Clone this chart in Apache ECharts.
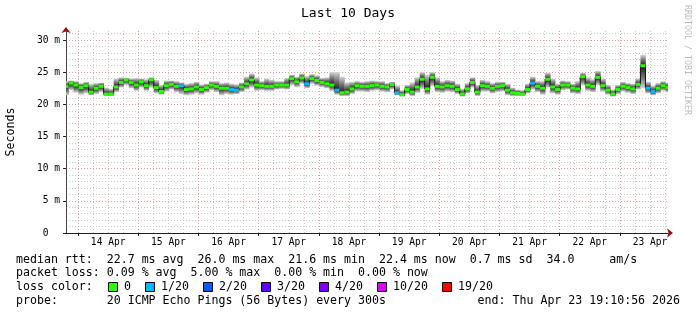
<!DOCTYPE html>
<html><head><meta charset="utf-8">
<script src="https://cdn.jsdelivr.net/npm/echarts@6/dist/echarts.min.js"></script>
<style>html,body{margin:0;padding:0;background:#fff}#c{width:697px;height:315px}</style>
</head><body><div id="c"></div>
<script>
const titleText = 'Last 10 Days';
const yAxisTitle = 'Seconds';
const creditText = 'RRDTOOL / TOBI OETIKER';
const stepHours = 2;
const spanHours = 240;
const firstMidnightHours = 4.8178; // 14 Apr 00:00 measured from start (13 Apr 19:10:56)
const dayLabels = ['14 Apr','15 Apr','16 Apr','17 Apr','18 Apr','19 Apr','20 Apr','21 Apr','22 Apr','23 Apr'];
const yTickValues = [0,5,10,15,20,25,30];
const yTickLabels = ['0  ','5 m','10 m','15 m','20 m','25 m','30 m'];
const yMax = 31.4;

// median RTT (ms), one value every 2 hours
const medianRtt = [
22.8,23.3,23.0,22.6,22.9,21.9,22.5,22.8,21.6,21.6,
22.7,23.4,23.8,23.4,23.0,23.5,22.9,23.8,22.6,22.0,
22.9,23.1,22.8,22.9,22.3,22.4,22.7,22.3,22.6,23.0,
22.8,22.5,22.5,22.3,22.2,22.7,23.2,23.8,23.0,22.9,
22.8,22.8,23.0,23.0,23.0,24.0,23.5,24.1,23.2,24.0,
23.7,23.4,23.2,23.0,22.2,21.8,21.9,22.4,22.9,22.8,
22.8,22.9,23.0,22.8,22.7,23.1,21.8,21.5,22.3,21.9,
22.7,23.9,22.4,24.2,22.8,22.7,22.9,22.8,22.3,21.6,
22.4,23.4,21.9,22.9,22.8,22.5,22.8,22.9,22.2,21.8,
21.7,21.6,22.3,23.3,22.8,22.5,23.9,22.7,22.3,23.0,
23.0,22.5,22.4,24.3,23.0,22.8,24.2,22.9,22.2,21.6,
22.3,22.8,22.6,22.4,23.1,26.0,22.5,22.0,22.5,22.9,
22.6];
// smoke: lowest and highest ping (ms)
const smokeMin = [
21.4,22.2,21.8,21.5,21.7,21.4,21.6,21.9,21.3,21.3,
21.9,22.6,23.0,22.5,22.1,22.6,22.1,22.6,21.7,21.5,
22.0,22.3,21.9,21.6,21.4,21.5,21.7,21.5,21.8,22.2,
21.9,21.4,21.6,21.5,21.6,21.9,22.3,22.6,22.1,22.2,
22.1,22.1,22.3,22.4,22.3,23.0,22.7,23.2,22.5,23.2,
22.9,22.7,22.5,22.1,21.5,21.3,21.3,21.6,22.0,22.0,
21.9,22.1,22.2,22.0,21.9,22.3,21.4,21.2,21.6,21.3,
21.8,22.4,21.5,22.8,21.9,21.8,22.0,21.9,21.6,21.2,
21.7,22.6,21.3,22.0,22.0,21.7,21.9,22.0,21.4,21.3,
21.3,21.3,21.7,22.3,21.9,21.5,22.6,21.7,21.5,22.2,
22.3,21.7,21.6,23.0,22.1,21.9,23.0,22.0,21.5,21.2,
21.6,22.0,21.8,21.6,22.3,22.5,21.7,21.4,21.7,22.1,
21.9];
const smokeMax = [
23.6,23.7,23.6,23.3,23.5,23.2,23.3,23.4,22.6,22.4,
24.0,24.2,24.1,24.0,24.1,24.0,23.9,24.2,23.8,23.0,
23.7,23.7,23.6,23.4,23.2,23.3,23.5,23.1,23.2,23.6,
23.6,23.3,23.4,23.2,23.1,23.4,24.3,24.8,24.2,23.6,
24.0,23.8,23.6,23.6,24.1,24.6,24.3,24.8,24.4,24.7,
24.5,24.1,24.2,25.0,25.0,24.3,23.4,23.5,23.6,23.5,
23.6,23.7,23.6,23.6,23.3,23.5,22.9,22.2,23.0,23.4,
24.2,25.0,24.6,25.0,24.2,23.6,23.8,23.7,23.2,22.4,
23.3,24.2,23.0,23.8,23.6,23.3,23.5,23.5,23.2,22.6,
22.3,22.2,23.2,24.3,23.6,23.6,24.9,24.0,23.2,23.7,
23.6,23.2,23.6,24.9,24.2,23.9,25.2,24.0,23.0,22.3,
23.0,23.5,23.3,23.2,24.0,27.7,23.5,22.9,23.3,23.6,
23.4];
// lost pings out of 20 for each step
const lossCount = [
0,0,0,0,0,0,0,0,0,0, 0,0,0,0,0,0,0,0,0,0,
0,0,0,1,0,0,0,0,0,0, 0,0,0,1,1,0,0,0,0,0,
0,0,0,0,0,0,0,0,1,0, 0,0,0,0,1,0,0,0,0,0,
0,0,0,0,0,0,1,0,0,0, 0,0,0,0,0,0,0,0,0,0,
0,0,0,0,0,0,0,0,0,0, 0,0,0,1,0,0,0,0,0,0,
0,0,0,0,0,0,0,0,0,0, 0,0,0,0,0,0,1,1,0,0,
0];
const lossThresholds = [0,1,2,3,4,10,19];
const lossLabels = ['0','1/20','2/20','3/20','4/20','10/20','19/20'];
const lossColors = ['#26ff00','#00b8ff','#0059ff','#5e00ff','#7e00ff','#dd00ff','#ff0000'];

const legendRtt = 'median rtt:  22.7 ms avg  26.0 ms max  21.6 ms min  22.4 ms now  0.7 ms sd  34.0     am/s';
const legendLoss = 'packet loss: 0.09 % avg  5.00 % max  0.00 % min  0.00 % now';
const legendLossColor = 'loss color:';
const legendProbe = 'probe:       20 ICMP Echo Pings (56 Bytes) every 300s';
const legendEnd = 'end: Thu Apr 23 19:10:56 2026';

const MONO = '"DejaVu Sans Mono", monospace';
const majorGrid = '#df9a9a';
const minorGrid = '#c9c9c9';

function lossColor(n) {
  let idx = 0;
  for (let k = 0; k < lossThresholds.length; k++) if (n >= lossThresholds[k]) idx = k;
  return lossColors[idx];
}

const times = medianRtt.map((_, i) => i * stepHours);
const smokeData = times.map((t, i) => [t, smokeMin[i], smokeMax[i], medianRtt[i]]);
const medData = times.map((t, i) => [t, medianRtt[i], lossCount[i]]);

const majorX = dayLabels.map((_, k) => firstMidnightHours + 24 * k);
const labelX = dayLabels.map((_, k) => firstMidnightHours + 24 * k + 12);
const minorX = [];
for (let h = firstMidnightHours - 18; h < spanHours; h += 6) {
  if (h > 0 && Math.abs(((h - firstMidnightHours) % 24 + 24) % 24) > 0.01) minorX.push(h);
}
const minorY = [];
for (let v = 1; v < yMax; v++) if (v % 5 !== 0) minorY.push(v);

function renderSmoke(params, api) {
  const t = api.value(0), lo = api.value(1), hi = api.value(2), md = api.value(3);
  const a = api.coord([t - stepHours / 2, hi]);
  const b = api.coord([t + stepHours / 2, lo]);
  const m = api.coord([t, md]);
  const h = b[1] - a[1];
  let mp = h > 0 ? (m[1] - a[1]) / h : 0.5;
  mp = Math.min(0.92, Math.max(0.08, mp));
  return {
    type: 'rect',
    shape: { x: a[0], y: a[1], width: b[0] - a[0] + 0.4, height: h },
    style: {
      fill: new echarts.graphic.LinearGradient(0, 0, 0, 1, [
        { offset: 0, color: '#d6d6d6' },
        { offset: mp * 0.45, color: '#7a7a7a' },
        { offset: mp, color: '#1a1a1a' },
        { offset: mp + (1 - mp) * 0.55, color: '#7a7a7a' },
        { offset: 1, color: '#d6d6d6' }
      ])
    }
  };
}
function renderMedian(params, api) {
  const t = api.value(0), md = api.value(1), loss = api.value(2);
  const a = api.coord([t - stepHours / 2, md]);
  const b = api.coord([t + stepHours / 2, md]);
  return {
    type: 'rect',
    shape: { x: a[0], y: a[1] - 1.5, width: b[0] - a[0], height: 3 },
    style: { fill: lossColor(loss) }
  };
}

const graphics = [
  { type: 'text', x: 348, y: 14, style: { text: titleText, font: '13px ' + MONO, fill: '#000', align: 'center', verticalAlign: 'middle' } },
  { type: 'text', x: 11, y: 132, rotation: Math.PI / 2, style: { text: yAxisTitle, font: '11.6px ' + MONO, fill: '#000', align: 'center', verticalAlign: 'middle' } },
  { type: 'text', x: 687, y: 60, rotation: -Math.PI / 2, style: { text: creditText, font: '8.3px ' + MONO, fill: '#bdbdbd', align: 'center', verticalAlign: 'middle' } },
  { type: 'text', x: 16, y: 260, style: { text: legendRtt, font: '11.6px ' + MONO, fill: '#000', align: 'left', verticalAlign: 'middle' } },
  { type: 'text', x: 16, y: 273, style: { text: legendLoss, font: '11.6px ' + MONO, fill: '#000', align: 'left', verticalAlign: 'middle' } },
  { type: 'text', x: 16, y: 287, style: { text: legendLossColor, font: '11.6px ' + MONO, fill: '#000', align: 'left', verticalAlign: 'middle' } },
  { type: 'text', x: 16, y: 301, style: { text: legendProbe, font: '11.6px ' + MONO, fill: '#000', align: 'left', verticalAlign: 'middle' } },
  { type: 'text', x: 680, y: 301, style: { text: legendEnd, font: '11.6px ' + MONO, fill: '#000', align: 'right', verticalAlign: 'middle' } }
];
let bx = 108;
lossLabels.forEach((lab, k) => {
  graphics.push({ type: 'rect', shape: { x: bx + 0.5, y: 282.5, width: 9, height: 9 }, style: { fill: lossColors[k], stroke: '#000', lineWidth: 1 } });
  graphics.push({ type: 'text', x: bx + 16, y: 287, style: { text: lab, font: '11.6px ' + MONO, fill: '#000', align: 'left', verticalAlign: 'middle' } });
  bx += 16 + 7 * lab.length + 14;
});

const chart = echarts.init(document.getElementById('c'), null, { renderer: 'canvas' });
chart.setOption({
  animation: false,
  backgroundColor: '#fff',
  grid: { left: 66, right: 29, top: 31, bottom: 82, containLabel: false },
  xAxis: [
    {
      type: 'value', min: 0, max: spanHours, position: 'bottom',
      axisLine: { show: true, onZero: false, lineStyle: { color: '#222', width: 1 } },
      axisTick: { show: true, length: 3, inside: false, customValues: majorX, lineStyle: { color: '#222' } },
      axisLabel: {
        show: true, customValues: labelX, margin: 4, color: '#000', fontFamily: MONO, fontSize: 9.6,
        formatter: v => dayLabels[Math.round((v - firstMidnightHours - 12) / 24)] || ''
      },
      splitLine: { show: true, lineStyle: { color: majorGrid, type: [1, 2], width: 1 } }
    },
    {
      type: 'value', min: 0, max: spanHours, position: 'bottom',
      axisLine: { show: false }, axisLabel: { show: false },
      axisTick: { show: false, customValues: minorX },
      splitLine: { show: true, lineStyle: { color: minorGrid, type: [1, 2], width: 1 } }
    },
    {
      type: 'value', min: 0, max: spanHours, position: 'bottom',
      axisLine: { show: true, onZero: false, symbol: ['none', 'arrow'], symbolSize: [7, 6], symbolOffset: [0, 5], lineStyle: { color: '#9a1010', width: 0 } },
      axisTick: { show: false }, axisLabel: { show: false }, splitLine: { show: false }
    }
  ],
  yAxis: [
    {
      type: 'value', min: 0, max: yMax, position: 'left',
      axisLine: { show: true, onZero: false, lineStyle: { color: '#444', width: 1 } },
      axisTick: { show: true, length: 3, customValues: yTickValues, lineStyle: { color: '#222' } },
      axisLabel: {
        show: true, customValues: yTickValues, margin: 6, color: '#000', fontFamily: MONO, fontSize: 9.6,
        formatter: v => yTickLabels[yTickValues.indexOf(Math.round(v))] || ''
      },
      splitLine: { show: true, lineStyle: { color: majorGrid, type: [1, 2], width: 1 } }
    },
    {
      type: 'value', min: 0, max: yMax, position: 'left',
      axisLine: { show: false }, axisLabel: { show: false },
      axisTick: { show: false, customValues: minorY },
      splitLine: { show: true, lineStyle: { color: minorGrid, type: [1, 2], width: 1 } }
    },
    {
      type: 'value', min: 0, max: yMax, position: 'left',
      axisLine: { show: true, onZero: false, symbol: ['none', 'arrow'], symbolSize: [7, 6], symbolOffset: [0, 4], lineStyle: { color: '#9a1010', width: 0 } },
      axisTick: { show: false }, axisLabel: { show: false }, splitLine: { show: false }
    }
  ],
  series: [
    {
      name: 'smoke', type: 'custom', xAxisIndex: 0, yAxisIndex: 0, clip: true,
      renderItem: renderSmoke, data: smokeData, encode: { x: 0, y: [1, 2] }, z: 2
    },
    {
      name: 'median-link', type: 'line', xAxisIndex: 0, yAxisIndex: 0, step: 'middle',
      showSymbol: false, symbol: 'none', data: times.map((t, i) => [t, medianRtt[i]]),
      lineStyle: { color: '#111', width: 1 }, z: 3, silent: true
    },
    {
      name: 'median', type: 'custom', xAxisIndex: 0, yAxisIndex: 0, clip: true,
      renderItem: renderMedian, data: medData, encode: { x: 0, y: 1 }, z: 4
    }
  ],
  graphic: graphics
});
</script>
</body></html>
